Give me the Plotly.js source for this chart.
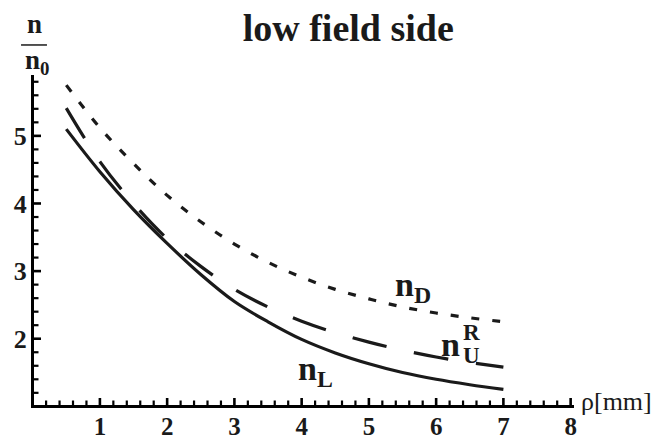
<!DOCTYPE html>
<html>
<head>
<meta charset="utf-8">
<script src="https://cdn.plot.ly/plotly-3.0.1.min.js"></script>
<style>html,body{margin:0;padding:0;background:#fff;}#chart{width:658px;height:440px;}</style>
</head>
<body>
<div id="chart"></div>
<script>
// radius rho [mm]
var rho = [0.5, 1, 1.5, 2, 2.5, 3, 3.5, 4, 4.5, 5, 5.5, 6, 6.5, 7];
// n_L (solid)
var nL = [5.10, 4.47, 3.91, 3.41, 2.95, 2.55, 2.25, 1.99, 1.79, 1.63, 1.50, 1.40, 1.32, 1.25];
// n_U^R (long dashes)
var nUR = [5.41, 4.62, 4.00, 3.48, 3.07, 2.73, 2.47, 2.26, 2.09, 1.95, 1.83, 1.73, 1.65, 1.58];
// n_D (dotted)
var nD = [5.75, 5.12, 4.59, 4.12, 3.73, 3.40, 3.13, 2.91, 2.73, 2.59, 2.47, 2.38, 2.31, 2.25];

var serif = 'Liberation Serif';
var xRange = [0.02, 8.05], yRange = [1.02, 5.9];
var minorStep = 0.2;

var traces = [
  {x: rho, y: nD, mode: 'lines', line: {color: '#1a1a1a', width: 3.2, dash: '8px,13px', shape: 'spline'}, hoverinfo: 'skip'},
  {x: rho, y: nUR, mode: 'lines', line: {color: '#1a1a1a', width: 3.2, dash: '35px,28px', shape: 'spline'}, hoverinfo: 'skip'},
  {x: rho, y: nL, mode: 'lines', line: {color: '#1a1a1a', width: 3.2, shape: 'spline'}, hoverinfo: 'skip'}
];

function ann(text, x, y, size, bold, xref, yref) {
  return {text: text, x: x, y: y, xref: xref || 'x', yref: yref || 'y', showarrow: false,
    xanchor: 'center', yanchor: 'middle',
    font: {family: serif, size: size, color: '#1a1a1a', weight: bold ? 'bold' : 'normal'}};
}

// inward tick marks drawn as pixel-sized shapes along each axis (every minorStep, longer on integers)
var shapes = [
  {type: 'line', xref: 'paper', yref: 'paper', x0: -0.024, x1: 0.024, y0: 1.091, y1: 1.091,
    line: {color: '#1a1a1a', width: 1.5}}
];
function isMajor(v) { return Math.abs(v - Math.round(v)) < 1e-6; }
for (var k = 1; k * minorStep <= xRange[1] + 1e-9; k++) {
  var v = +(k * minorStep).toFixed(6);
  if (v <= xRange[0]) continue;
  var major = isMajor(v);
  shapes.push({type: 'line', xref: 'x', yref: 'y', ysizemode: 'pixel', yanchor: yRange[0],
    x0: v, x1: v, y0: -1, y1: major ? 7 : 4.5, layer: 'above',
    line: {color: 'black', width: major ? 2.6 : 2.2}});
}
for (var j = Math.ceil(yRange[0] / minorStep); j * minorStep <= yRange[1] + 1e-9; j++) {
  var w = +(j * minorStep).toFixed(6);
  if (w <= yRange[0]) continue;
  var majorY = isMajor(w);
  shapes.push({type: 'line', xref: 'x', yref: 'y', xsizemode: 'pixel', xanchor: xRange[0],
    y0: w, y1: w, x0: -1, x1: majorY ? 7 : 4.5, layer: 'above',
    line: {color: 'black', width: majorY ? 2.6 : 2.2}});
}

var layout = {
  width: 658, height: 440,
  margin: {l: 34, r: 84, t: 75, b: 35},
  paper_bgcolor: '#fff', plot_bgcolor: '#fff',
  showlegend: false,
  title: {text: 'low field side', x: 0.582, xref: 'paper', xanchor: 'center', y: 0.937, yanchor: 'middle',
    font: {family: serif, size: 38, color: '#1a1a1a', weight: 'bold'}},
  xaxis: {
    range: xRange, showgrid: false, zeroline: false,
    showline: true, linecolor: 'black', linewidth: 3,
    tickmode: 'linear', tick0: 0, dtick: 1, ticks: '',
    tickfont: {family: serif, size: 25, color: '#1a1a1a', weight: 'bold'},
    ticklabelstandoff: -3
  },
  yaxis: {
    range: yRange, showgrid: false, zeroline: false,
    showline: true, linecolor: 'black', linewidth: 3,
    tickmode: 'linear', tick0: 0, dtick: 1, ticks: '',
    tickfont: {family: serif, size: 26, color: '#1a1a1a', weight: 'bold'},
    ticklabelstandoff: -1
  },
  annotations: [
    ann('n<sub>D</sub>', 5.65, 2.77, 34, true),
    ann('n', 6.22, 1.92, 34, true),
    ann('R', 6.53, 2.09, 23, true),
    ann('U', 6.53, 1.75, 23, true),
    ann('n<sub>L</sub>', 4.21, 1.52, 34, true),
    ann('ρ[mm]', 1.078, 0.012, 26, false, 'paper', 'paper'),
    ann('n', 0.0, 1.155, 27, true, 'paper', 'paper'),
    ann('n<sub>0</sub>', 0.006, 1.04, 27, true, 'paper', 'paper')
  ],
  shapes: shapes
};

Plotly.newPlot('chart', traces, layout, {displayModeBar: false, staticPlot: true});
</script>
</body>
</html>
